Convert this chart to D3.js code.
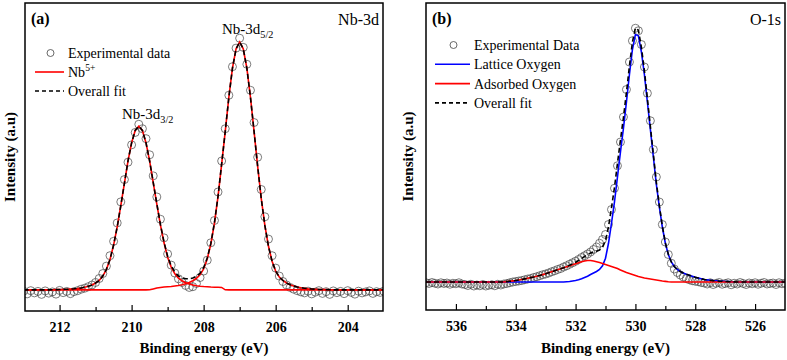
<!DOCTYPE html>
<html>
<head>
<meta charset="utf-8">
<script src="https://cdn.jsdelivr.net/npm/d3@7"></script>
<style>
  body { margin: 0; background: #fff; }
  svg { display: block; }
</style>
</head>
<body>
<svg id="chart" width="787" height="360"></svg>
<script>
// ---- Panel (a) Nb-3d : one value every 0.1 eV from 213 to 203 eV ----
const energyA = d3.range(213, 202.95, -0.1);

const expA = [
  -0.5, -1.6, -0.3, -1.2, -0.6, -1.8, -0.4, -1.3, -0.8, -1.7,
  -0.2, -1.1, -0.6, -1.5, -0.7, -0.3, 0.3, 0.7, 1.3, 2.0,
  3.0, 4.6, 6.6, 9.6, 13.8, 19.6, 27, 35.5, 44.5, 51.5,
  58.5, 63.5, 66.8, 65, 61, 54.5, 46, 37.5, 28.5, 21,
  14.5, 10, 6.8, 4.5, 3.0, 1.8, 1.0, 1.3, 2.6, 5.0,
  7.6, 12, 19, 28, 39.5, 52, 65, 78.5, 90, 97.5,
  101.5, 97.8, 91, 80.5, 67.5, 53.5, 40.5, 29.5, 20.5, 13.8,
  8.8, 5.6, 3.4, 2.0, 1.0, 0.3, -0.3, -0.8, -1.2, -0.5,
  -1.6, -0.9, -0.3, -1.4, -0.7, -1.8, -0.4, -1.1, -0.6, -1.5,
  -0.3, -1.0, -1.7, -0.5, -1.2, -0.8, -0.4, -1.4, -0.7, -1.0,
  -0.5
];

const nb32A = [
  0, 0, 0, 0, 0, 0, 0, 0, 0.05, 0.1,
  0.15, 0.2, 0.25, 0.35, 0.45, 0.6, 0.8, 1.1, 1.5, 2.0,
  2.8, 3.8, 5.6, 8.3, 12.3, 18.1, 25.4, 34, 43, 52,
  59.3, 64.3, 66, 64.3, 59.3, 52, 43, 34, 25.4, 18.1,
  12.3, 8.3, 5.6, 3.8, 2.8, 2.0, 1.5, 1.1, 0.8, 0.6,
  0.45, 0.35, 0.25, 0.2, 0.15, 0.1, 0.05, 0, 0, 0,
  0, 0, 0, 0, 0, 0, 0, 0, 0, 0,
  0, 0, 0, 0, 0, 0, 0, 0, 0, 0,
  0, 0, 0, 0, 0, 0, 0, 0, 0, 0,
  0, 0, 0, 0, 0, 0, 0, 0, 0, 0,
  0
];

const nb52A = [
  0, 0, 0, 0, 0, 0, 0, 0, 0, 0,
  0, 0, 0, 0, 0, 0, 0, 0, 0, 0,
  0, 0, 0, 0, 0, 0, 0, 0, 0, 0,
  0, 0, 0, 0, 0, 0.05, 0.1, 0.15, 0.2, 0.3,
  0.4, 0.5, 0.7, 0.9, 1.2, 1.6, 2.1, 2.8, 3.8, 5.2,
  7.6, 11.6, 17.6, 26, 36.8, 49.8, 63.9, 77.7, 89.4, 97.2,
  100, 97.2, 89.4, 77.7, 63.9, 49.8, 36.8, 26, 17.6, 11.6,
  7.6, 5.2, 3.8, 2.8, 2.1, 1.6, 1.2, 0.9, 0.7, 0.5,
  0.4, 0.3, 0.2, 0.15, 0.1, 0.05, 0, 0, 0, 0,
  0, 0, 0, 0, 0, 0, 0, 0, 0, 0,
  0
];

const bgA = [
  0, 0, 0, 0, 0, 0, 0, 0, 0, 0,
  0, 0, 0, 0, 0, 0, 0, 0, 0, 0,
  0, 0, 0, 0, 0, 0, 0, 0, 0, 0,
  0, 0, 0, 0, 0, 0, 0.3, 0.6, 0.8, 0.9,
  0.9, 0.9, 0.9, 0.9, 0.9, 0.9, 0.9, 0.9, 0.9, 0.9,
  0.9, 0.9, 0.9, 0.9, 0.9, 0.9, 0, 0, 0, 0,
  0, 0, 0, 0, 0, 0, 0, 0, 0, 0,
  0, 0, 0, 0, 0, 0, 0, 0, 0, 0,
  0, 0, 0, 0, 0, 0, 0, 0, 0, 0,
  0, 0, 0, 0, 0, 0, 0, 0, 0, 0,
  0
];

const majorTicksA = [212, 210, 208, 206, 204];
const minorTicksA = [211, 209, 207, 205];

// ---- Panel (b) O-1s : one value every 0.1 eV from 537 to 525 eV ----
const energyB = d3.range(537, 524.95, -0.1);

const expB = [
  -0.3, -0.6, -0.2, -0.5, -0.8, -0.3, -0.6, -0.4, -0.9, -0.5,
  -0.7, -0.3, -0.8, -1.0, -1.4, -0.9, -1.6, -1.2, -1.5, -1.0,
  -1.6, -1.3, -1.1, -1.5, -0.9, -1.2, -0.8, -0.6, -0.3, 0.0,
  0.2, 0.4, 0.6, 0.9, 1.2, 1.4, 1.8, 2.1, 2.5, 2.9,
  3.2, 3.6, 4.1, 4.5, 5.0, 5.4, 6.0, 6.5, 7.1, 7.7,
  8.3, 9.0, 9.8, 10.5, 11.2, 12.0, 13.0, 14.0, 15.5, 17.0,
  19.0, 23.0, 29.0, 37.5, 46.5, 56.0, 66.0, 77.0, 88.0, 96.5,
  101.5, 100.5, 95, 86, 75.5, 64.5, 53, 42, 32, 23,
  16, 11, 7.5, 5.2, 3.8, 2.8, 2.0, 1.4, 0.9, 0.5,
  0.3, 0.1, -0.2, -0.4, -0.8, -0.3, -1.0, -0.5, -0.2, -0.9,
  -0.6, -0.3, -1.1, -0.5, -0.8, -0.2, -0.6, -1.0, -0.4, -0.7,
  -0.3, -0.9, -0.5, -0.2, -0.8, -0.6, -0.4, -1.0, -0.3, -0.7,
  -0.5
];

const latticeB = [
  0, 0, 0, 0, 0, 0, 0, 0, 0, 0,
  0, 0, 0, 0, 0, 0, 0, 0, 0, 0,
  0, 0, 0, 0, 0, 0, 0, 0, 0, 0,
  0, 0, 0, 0, 0, 0, 0, 0, 0, 0,
  0, 0, 0, 0, 0, 0, 0, 0.1, 0.2, 0.4,
  0.6, 0.9, 1.3, 1.8, 2.3, 3.0, 3.6, 4.2, 5.0, 6.5,
  9.5, 15.5, 23.5, 32, 42, 52, 61.5, 72, 83, 93,
  99, 98.5, 92, 83, 72, 61, 50, 39, 30, 22,
  15.5, 11, 8, 6.2, 5, 4.2, 3.6, 3.1, 2.7, 2.3,
  1.9, 1.6, 1.3, 1.0, 0.85, 0.7, 0.55, 0.45, 0.35, 0.28,
  0.2, 0.15, 0.1, 0.05, 0, 0, 0, 0, 0, 0,
  0, 0, 0, 0, 0, 0, 0, 0, 0, 0,
  0
];

const adsorbedB = [
  0, 0, 0, 0, 0, 0, 0, 0, 0, 0,
  0, 0, 0, 0, 0, 0, 0, 0, 0, 0,
  0, 0, 0, 0, 0, 0, 0, 0.15, 0.3, 0.45,
  0.6, 0.8, 1.0, 1.25, 1.5, 1.75, 2.0, 2.3, 2.6, 2.95,
  3.3, 3.7, 4.1, 4.5, 4.9, 5.3, 5.7, 6.1, 6.5, 6.9,
  7.3, 7.7, 8.1, 8.4, 8.6, 8.6, 8.4, 8.1, 7.8, 7.4,
  7.0, 6.6, 6.2, 5.8, 5.4, 4.8, 4.3, 3.8, 3.4, 3.0,
  2.6, 2.2, 1.9, 1.6, 1.4, 1.2, 1.0, 0.8, 0.6, 0.4,
  0.25, 0.1, 0, 0, 0, 0, 0, 0, 0, 0,
  0, 0, 0, 0, 0, 0, 0, 0, 0, 0,
  0, 0, 0, 0, 0, 0, 0, 0, 0, 0,
  0, 0, 0, 0, 0, 0, 0, 0, 0, 0,
  0
];

const majorTicksB = [536, 534, 532, 530, 528, 526];
const minorTicksB = [535, 533, 531, 529, 527];

// overall fits are the sum of the components
const fitA = energyA.map((_, i) => nb32A[i] + nb52A[i] + bgA[i]);
const fitB = energyB.map((_, i) => latticeB[i] + adsorbedB[i]);

const FONT = 'Liberation Serif';

const svg = d3.select('#chart')
  .attr('font-family', FONT);

// text with optional sub/superscript parts
function richText(g, x, y, parts, size, anchor) {
  const t = g.append('text')
    .attr('x', x)
    .attr('y', y)
    .attr('font-family', FONT)
    .attr('font-size', size)
    .attr('text-anchor', anchor || 'start');
  let shift = 0;
  parts.forEach(p => {
    const target = p.sub ? 4 : p.sup ? -6 : 0;
    t.append('tspan')
      .attr('dy', target - shift)
      .attr('font-size', p.sub || p.sup ? size * 0.68 : size)
      .text(p.t);
    shift = target;
  });
  return t;
}

function drawPanel(p) {
  const x = d3.scaleLinear().domain(p.xDomain).range([p.left, p.right]);
  const y = d3.scaleLinear().domain(p.yDomain).range([p.bottom, p.top]);
  const g = svg.append('g');

  g.append('clipPath')
    .attr('id', 'clip-' + p.id)
    .append('rect')
    .attr('x', p.left)
    .attr('y', p.top)
    .attr('width', p.right - p.left)
    .attr('height', p.bottom - p.top);

  const plot = g.append('g').attr('clip-path', `url(#clip-${p.id})`);

  // Experimental data points
  plot.selectAll('.pt')
    .data(p.exp)
    .enter()
    .append('circle')
    .attr('class', 'pt')
    .attr('cx', (d, i) => x(p.energy[i]))
    .attr('cy', d => y(d))
    .attr('r', 4)
    .attr('fill', 'none')
    .attr('stroke', '#444')
    .attr('stroke-width', 0.7);

  // Fitted curves
  p.lines.forEach(l => {
    const line = d3.line()
      .x((d, i) => x(p.energy[i]))
      .y(d => y(d));
    plot.append('path')
      .attr('d', line(l.values))
      .attr('fill', 'none')
      .attr('stroke', l.color)
      .attr('stroke-width', 1.6)
      .attr('stroke-dasharray', l.dash || null);
  });

  // Bottom axis, ticks pointing inward
  g.append('g')
    .attr('transform', `translate(0,${p.bottom})`)
    .call(d3.axisBottom(x).tickValues(p.majorTicks).tickSize(-6).tickPadding(11).tickFormat(d3.format('d')))
    .attr('font-family', FONT)
    .attr('font-size', 14)
    .attr('font-weight', 'bold')
    .call(a => a.select('.domain').remove())
    .call(a => a.selectAll('line').attr('stroke-width', 1.2));

  g.append('g')
    .attr('transform', `translate(0,${p.bottom})`)
    .call(d3.axisBottom(x).tickValues(p.minorTicks).tickSize(-4).tickFormat(''))
    .call(a => a.select('.domain').remove())
    .call(a => a.selectAll('line').attr('stroke-width', 1.2));

  // Frame
  g.append('rect')
    .attr('x', p.left)
    .attr('y', p.top)
    .attr('width', p.right - p.left)
    .attr('height', p.bottom - p.top)
    .attr('fill', 'none')
    .attr('stroke', '#000')
    .attr('stroke-width', 1.5);

  // Axis labels
  g.append('text')
    .attr('x', (p.left + p.right) / 2)
    .attr('y', 353)
    .attr('text-anchor', 'middle')
    .attr('font-family', FONT)
    .attr('font-size', 15)
    .attr('font-weight', 'bold')
    .text('Binding energy (eV)');

  g.append('text')
    .attr('transform', `translate(${p.left - p.yLabelGap},${(p.top + p.bottom) / 2}) rotate(-90)`)
    .attr('text-anchor', 'middle')
    .attr('font-family', FONT)
    .attr('font-size', 15)
    .attr('font-weight', 'bold')
    .text('Intensity (a.u)');

  // Panel tag and core level name
  g.append('text')
    .attr('x', p.left + 6)
    .attr('y', 24)
    .attr('font-family', FONT)
    .attr('font-size', 16)
    .attr('font-weight', 'bold')
    .text(p.tag);

  g.append('text')
    .attr('x', p.right - 4)
    .attr('y', 25)
    .attr('text-anchor', 'end')
    .attr('font-family', FONT)
    .attr('font-size', 16)
    .text(p.level);

  // Legend
  p.legend.forEach((item, k) => {
    const ly = p.legendY + k * p.legendStep;
    if (item.type === 'circle') {
      g.append('circle')
        .attr('cx', (p.legendX0 + p.legendX1) / 2 + 1)
        .attr('cy', ly)
        .attr('r', 3.5)
        .attr('fill', 'none')
        .attr('stroke', '#444')
        .attr('stroke-width', 0.8);
    } else {
      g.append('line')
        .attr('x1', p.legendX0)
        .attr('x2', p.legendX1)
        .attr('y1', ly)
        .attr('y2', ly)
        .attr('stroke', item.color)
        .attr('stroke-width', 1.6)
        .attr('stroke-dasharray', item.dash || null);
    }
    richText(g, p.legendX1 + 4, ly + 5, item.label, 14);
  });

  return { g, x, y };
}

// Panel (a)
const panelA = drawPanel({
  id: 'a',
  left: 25, right: 383, top: 3, bottom: 311,
  xDomain: [212.96, 203.02],
  yDomain: [-8.5, 115.7],
  energy: energyA,
  exp: expA,
  lines: [
    { values: nb32A.map((v, i) => v + bgA[i]), color: '#ff0000' },
    { values: nb52A.map((v, i) => v + bgA[i]), color: '#ff0000' },
    { values: fitA, color: '#000', dash: '5,3' }
  ],
  majorTicks: majorTicksA,
  minorTicks: minorTicksA,
  tag: '(a)',
  level: 'Nb-3d',
  yLabelGap: 10,
  legendX0: 35, legendX1: 64, legendY: 53, legendStep: 19,
  legend: [
    { type: 'circle', label: [{ t: 'Experimental data' }] },
    { type: 'line', color: '#ff0000', label: [{ t: 'Nb' }, { t: '5+', sup: true }] },
    { type: 'line', color: '#000', dash: '4,3', label: [{ t: 'Overall fit' }] }
  ]
});

richText(panelA.g, 222, 34, [{ t: 'Nb-3d' }, { t: '5/2', sub: true }], 15);
richText(panelA.g, 122, 119, [{ t: 'Nb-3d' }, { t: '3/2', sub: true }], 15);

// Panel (b)
drawPanel({
  id: 'b',
  left: 426, right: 785, top: 3, bottom: 310,
  xDomain: [537, 525],
  yDomain: [-11.2, 111.6],
  energy: energyB,
  exp: expB,
  lines: [
    { values: latticeB, color: '#0000ff' },
    { values: adsorbedB, color: '#ff0000' },
    { values: fitB, color: '#000', dash: '5,3' }
  ],
  majorTicks: majorTicksB,
  minorTicks: minorTicksB,
  tag: '(b)',
  level: 'O-1s',
  yLabelGap: 13,
  legendX0: 435, legendX1: 470, legendY: 45, legendStep: 19.3,
  legend: [
    { type: 'circle', label: [{ t: 'Experimental Data' }] },
    { type: 'line', color: '#0000ff', label: [{ t: 'Lattice Oxygen' }] },
    { type: 'line', color: '#ff0000', label: [{ t: 'Adsorbed Oxygen' }] },
    { type: 'line', color: '#000', dash: '4,3', label: [{ t: 'Overall fit' }] }
  ]
});
</script>
</body>
</html>
